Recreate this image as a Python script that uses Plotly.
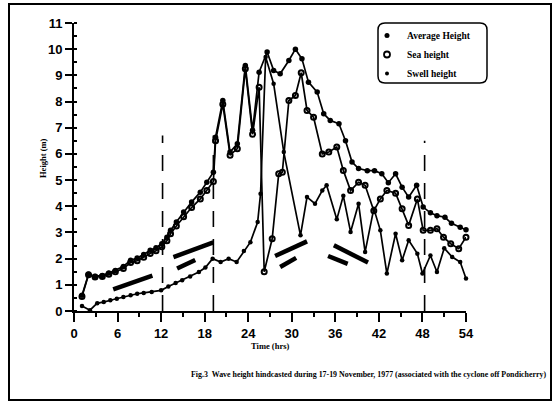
import plotly.graph_objects as go

# ---------------- data ----------------
avg_t = [1.1, 2.0, 2.9, 3.9, 4.8, 5.7, 6.8, 7.8, 8.7, 9.6, 10.5, 11.3, 12.1, 12.8, 13.3, 14.1, 15.1, 16.2, 17.4, 18.3,
         19.2, 19.5, 20.5, 21.5, 22.5, 23.6, 24.6, 25.5, 26.6, 27.5, 28.4, 29.6, 30.5, 31.4, 32.3, 33.5, 34.4, 35.3, 36.5, 37.4,
         38.3, 39.2, 40.4, 41.4, 42.4, 43.3, 44.3, 45.2, 46.1, 47.2, 48.1, 49.1, 50.0, 51.1, 52.0, 53.2, 54.0]
avg_h = [0.6, 1.4, 1.32, 1.36, 1.45, 1.55, 1.7, 1.94, 2.02, 2.16, 2.32, 2.42, 2.57, 2.82, 3.08, 3.4, 3.78, 4.16, 4.54, 4.92,
         5.3, 6.64, 8.04, 6.07, 6.39, 9.38, 6.9, 9.12, 9.89, 9.19, 9.06, 9.57, 10.0, 9.63, 8.74, 8.36, 7.53, 7.28, 7.15, 6.5,
         5.69, 5.44, 5.36, 5.36, 5.24, 4.9, 5.24, 4.73, 4.35, 4.8, 3.97, 3.75, 3.64, 3.58, 3.35, 3.2, 3.1]

sea_t = [1.1, 2.0, 2.9, 3.9, 4.8, 5.7, 6.8, 7.8, 8.7, 9.6, 10.5, 11.3, 12.1, 12.8, 13.3, 14.1, 15.1, 16.2, 17.4, 18.3,
         19.2, 19.5, 20.5, 21.5, 22.5, 23.6, 24.6,
         25.5, 26.2, 27.3, 28.2, 28.7, 29.6, 30.5, 31.3, 32.1, 33.0, 34.2, 35.1, 36.2, 37.1, 38.1, 39.2, 40.1, 41.3, 42.2,
         43.1, 44.3, 45.2, 46.1, 47.3, 48.1, 49.1, 50.0, 50.9, 51.9, 53.0, 54.0]
sea_h = [0.55, 1.38, 1.3, 1.32, 1.4, 1.5, 1.62, 1.85, 1.92, 2.05, 2.2, 2.3, 2.45, 2.68, 2.95, 3.25, 3.6, 3.95, 4.28, 4.6,
         4.95, 6.5, 7.9, 5.95, 6.2, 9.25, 6.75,
         8.55, 1.5, 2.76, 5.24, 5.3, 8.04, 8.23, 9.1, 7.66, 7.4, 6.0, 6.07, 6.26, 5.37, 4.6, 4.92, 4.8, 3.83, 4.28,
         4.6, 4.5, 3.91, 3.27, 4.28, 3.08, 3.08, 3.14, 2.82, 2.57, 2.38, 2.82]

swell_t = [1.1, 2.2, 3.2, 4.1, 5.0, 5.9, 6.8, 7.8, 8.7, 9.6, 10.7, 12.0, 13.0, 14.0, 14.9, 16.0, 17.2, 18.1, 19.1, 20.2,
           21.3, 22.4, 23.4, 24.3, 25.3, 25.7, 26.4, 27.5, 28.9, 31.2, 32.1, 33.2, 34.2, 34.8, 36.2, 37.1, 38.1, 39.2, 40.1, 41.3,
           42.2, 43.1, 44.3, 45.2, 46.1, 47.3, 48.0, 49.1, 50.0, 51.0, 52.1, 53.2, 54.0]
swell_h = [0.19, 0.03, 0.3, 0.34, 0.41, 0.47, 0.53, 0.6, 0.66, 0.69, 0.73, 0.79, 0.94, 1.07, 1.17, 1.32, 1.49, 1.66, 2.0, 1.87,
           2.0, 1.87, 2.29, 2.63, 3.4, 4.48, 9.7, 8.68, 6.07, 2.89, 4.35, 4.1, 4.6, 4.8, 3.5, 4.4, 3.02, 4.1, 2.25, 3.91,
           3.08, 1.43, 2.95, 1.94, 2.7, 2.19, 1.43, 2.12, 1.49, 2.4, 2.06, 1.87, 1.24]

# short double-line slope bars
bar_t0 = [5.4, 13.7, 14.2, 27.7, 28.4, 35.8, 35.0]
bar_h0 = [0.83, 2.06, 1.62, 2.10, 1.68, 2.51, 2.10]
bar_t1 = [10.8, 19.2, 16.7, 32.1, 30.6, 40.5, 37.7]
bar_h1 = [1.35, 2.62, 1.95, 2.66, 2.03, 1.85, 1.80]

# dashed vertical markers
vline_t = [12.2, 19.2, 48.3]
vline_top = [6.7, 6.7, 6.5]

x_ticks = [0, 6, 12, 18, 24, 30, 36, 42, 48, 54]
y_ticks = list(range(0, 12))

series_names = ["Average Height", "Sea height", "Swell height"]
caption = "Fig.3  Wave height hindcasted during 17-19 November, 1977 (associated with the cyclone off Pondicherry)"

# ---------------- figure ----------------
W, H = 554, 409
ML, MR, MT, MB = 74, 88, 23, 98
PW, PH = W - ML - MR, H - MT - MB


def px(x):
    return (x - ML) / PW


def py(y):
    return (H - MB - y) / PH


fig = go.Figure()
BLACK = "#000000"

for t, tp in zip(vline_t, vline_top):
    fig.add_trace(go.Scatter(x=[t, t], y=[0, tp], mode="lines", showlegend=False, hoverinfo="skip",
                             line=dict(color=BLACK, width=1.6, dash="16px,12px")))

for a, b, c, d in zip(bar_t0, bar_h0, bar_t1, bar_h1):
    fig.add_trace(go.Scatter(x=[a, c], y=[b, d], mode="lines", showlegend=False, hoverinfo="skip",
                             line=dict(color=BLACK, width=4.5)))

fig.add_trace(go.Scatter(x=swell_t, y=swell_h, mode="lines+markers", showlegend=False, cliponaxis=False,
                         line=dict(color=BLACK, width=1.7), marker=dict(color=BLACK, size=4.5)))
fig.add_trace(go.Scatter(x=sea_t, y=sea_h, mode="lines+markers", showlegend=False, cliponaxis=False,
                         line=dict(color=BLACK, width=1.7),
                         marker=dict(symbol="circle-open", color=BLACK, size=5, line=dict(width=2))))
fig.add_trace(go.Scatter(x=avg_t, y=avg_h, mode="lines+markers", showlegend=False, cliponaxis=False,
                         line=dict(color=BLACK, width=1.7), marker=dict(color=BLACK, size=5.5)))

# legend entries (markers only)
leg_styles = [dict(color=BLACK, size=5), dict(symbol="circle-open", color=BLACK, size=6, line=dict(width=1.8)),
              dict(color=BLACK, size=4)]
for name, ms in zip(series_names, leg_styles):
    fig.add_trace(go.Scatter(x=[None], y=[None], mode="markers", name=name, marker=ms))

axis_font = dict(family="Liberation Sans", size=13, color=BLACK, weight="bold")
fig.update_xaxes(range=[0, 54], tickvals=x_ticks, showline=True, linecolor=BLACK, linewidth=2,
                 ticks="outside", ticklen=9, tickwidth=2, tickcolor=BLACK, showgrid=False, zeroline=False,
                 tickfont=axis_font,
                 minor=dict(dtick=3, ticks="outside", ticklen=4, tickwidth=1.5, tickcolor=BLACK, showgrid=False))
fig.update_yaxes(range=[0, 11], tickvals=y_ticks, showline=True, linecolor=BLACK, linewidth=2,
                 ticks="outside", ticklen=7, tickwidth=2, tickcolor=BLACK, showgrid=False, zeroline=False,
                 tickfont=axis_font,
                 minor=dict(dtick=0.5, ticks="inside", ticklen=3, tickwidth=1.5, tickcolor=BLACK, showgrid=False))

serif_b = dict(family="Liberation Serif", color=BLACK, weight="bold")

fig.update_layout(
    width=W, height=H, margin=dict(l=ML, r=MR, t=MT, b=MB),
    paper_bgcolor="white", plot_bgcolor="white",
    showlegend=True,
    legend=dict(x=px(367), y=py(21), xanchor="left", yanchor="top", bgcolor="rgba(0,0,0,0)",
                borderwidth=0, font=dict(size=9.5, **serif_b), tracegroupgap=0, itemwidth=30),
    annotations=[
        dict(text="Height (m)", x=px(36), y=py(158), xref="paper", yref="paper", showarrow=False,
             textangle=-90, font=dict(size=8.5, **serif_b)),
        dict(text="Time (hrs)", x=px(270), y=py(353), xref="paper", yref="paper", showarrow=False,
             font=dict(size=8.5, **serif_b)),
        dict(text=caption, x=px(548), y=py(381), xref="paper", yref="paper", showarrow=False,
             xanchor="right", font=dict(size=7.9, **serif_b)),
    ],
)

# outer frame
fig.add_shape(type="rect", xref="paper", yref="paper", x0=px(9), x1=px(551), y0=py(400), y1=py(4),
              line=dict(color=BLACK, width=2), layer="below")

# rounded legend box
x0, x1, y0, y1, r = 378, 487, 23, 83, 7
path = (f"M {px(x0 + r)} {py(y0)} L {px(x1 - r)} {py(y0)} Q {px(x1)} {py(y0)} {px(x1)} {py(y0 + r)} "
        f"L {px(x1)} {py(y1 - r)} Q {px(x1)} {py(y1)} {px(x1 - r)} {py(y1)} "
        f"L {px(x0 + r)} {py(y1)} Q {px(x0)} {py(y1)} {px(x0)} {py(y1 - r)} "
        f"L {px(x0)} {py(y0 + r)} Q {px(x0)} {py(y0)} {px(x0 + r)} {py(y0)} Z")
fig.add_shape(type="path", path=path, xref="paper", yref="paper", line=dict(color=BLACK, width=1.5))

fig.write_html("out.html", config={"displayModeBar": False},
               post_script="document.body.style.margin='0';")
